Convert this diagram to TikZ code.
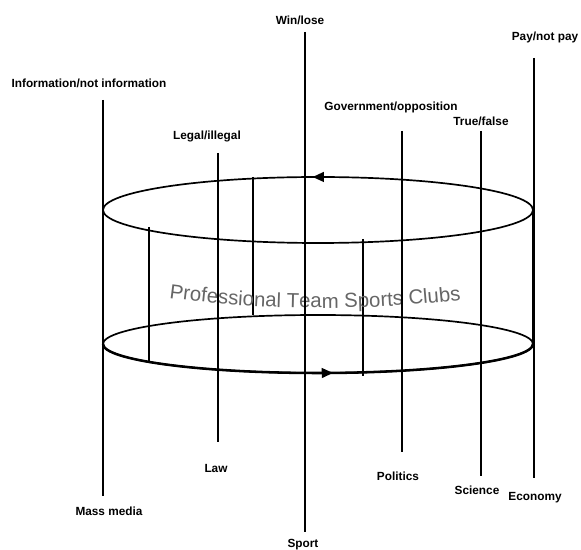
\documentclass[tikz,border=0pt]{standalone}
\usepackage{fontspec}
\setmainfont{Liberation Sans}
\usetikzlibrary{positioning,arrows.meta,decorations.markings,decorations.text}
\definecolor{ClubGray}{HTML}{666666}

\begin{document}
\begin{tikzpicture}[x=0.025cm,y=-0.025cm,
  every node/.style={font=\fontsize{8.4}{10}\selectfont\bfseries,inner sep=1pt},
  every path/.style={line width=1.2pt},
  turn/.style={postaction={decorate},decoration={markings,
    mark=at position #1 with {\arrowreversed{Triangle[length=8pt,width=7pt]}}}}]
  \useasboundingbox (0,0) rectangle (581,550);
  % cylinder
  \draw[turn=0.744] (318,210) ellipse (215 and 33);
  \draw[turn=0.233] (318,344) ellipse (215 and 29);
  \draw[line width=1.8pt] (103,344) arc[start angle=180,end angle=0,x radius=215,y radius=29];
  \draw[line width=1.5pt] (103,210) -- (103,344);
  \draw[line width=1.5pt] (533,210) -- (533,344);
  \draw (149,227) -- (149,362);
  \draw (253,177) -- (253,315);
  \draw (363,239) -- (363,376);
  \path[decorate,decoration={text along path,text align=center,
    text={|\fontsize{14.5}{16}\selectfont\color{ClubGray}|Professional Team Sports Clubs}}]
    (168,298) .. controls (265,311) and (365,311) .. (462,300);
  % codes and systems
  \node (info) at (89,83) {Information/not information};
  \node (media) at (109,511) {Mass media};
  \node (legal) at (207,136) {Legal/illegal};
  \node (law) at (216,468) {Law};
  \node (win) at (300,20) {Win/lose};
  \node (sport) at (303,545) {Sport};
  \node (govt) at (391,107) {Government/opposition};
  \node (politics) at (398,476) {Politics};
  \node (truth) at (481,121) {True/false};
  \node (science) at (477,490) {Science};
  \node (pay) at (545,37) {Pay/not pay};
  \node (economy) at (535,498) {Economy};
  \foreach \n/\x/\t/\b in {media/103/100/496,law/218/153/442,sport/305/32/532,
    politics/402/131/452,science/481/131/476,economy/534/58/478}
  {\coordinate (\n T) at (\x,\t); \coordinate (\n B) at (\x,\b);
   \draw (\n T) -- (\n B);}
\end{tikzpicture}
\end{document}
